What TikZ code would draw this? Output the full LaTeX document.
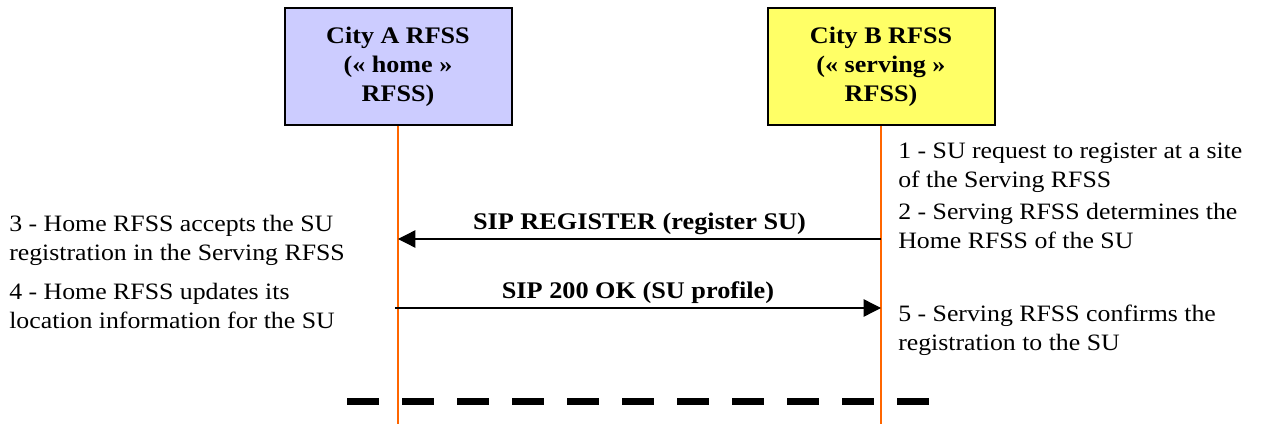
\documentclass[tikz,border=0pt]{standalone}
\usepackage{fontspec}
\setmainfont{Liberation Serif}[FakeStretch=1.1]
\usetikzlibrary{arrows.meta,positioning}
\definecolor{homeblue}{HTML}{CCCCFF}
\definecolor{servyellow}{HTML}{FFFF66}
\definecolor{lifeorange}{HTML}{FF6600}

\begin{document}
\begin{tikzpicture}[->,>={Triangle[length=13pt,width=13pt]},x=0.75pt,y=-0.75pt,thin]
\tikzstyle{rfss}=[draw,line width=1.5pt,minimum width=170.25pt,minimum height=87.75pt,align=center,font=\fontsize{17.8}{21.75}\selectfont\bfseries]
\tikzstyle{note}=[anchor=base west,align=left,inner sep=0pt,font=\fontsize{17.6}{21.6}\selectfont]
\tikzstyle{msg}=[black,line width=1pt]
\tikzstyle{msglabel}=[above=0pt,inner sep=3pt,font=\fontsize{17.9}{21}\selectfont\bfseries]
\tikzstyle{lifeline}=[-,draw=lifeorange,line width=1.2pt]
\tikzstyle{separator}=[-,line width=5.25pt,dash pattern=on 24pt off 17.25pt]

\useasboundingbox (0,0) rectangle (1261,424);

\node[rfss,fill=homeblue]   (A) at (398,66.5) {City A RFSS\\(« home »\\RFSS)};
\node[rfss,fill=servyellow] (B) at (881,66.5) {City B RFSS\\(« serving »\\RFSS)};

\coordinate (Aend) at (398,424);
\coordinate (Bend) at (881,424);
\draw[lifeline] (A.south) -- (Aend);
\draw[lifeline] (B.south) -- (Bend);

\coordinate (regB) at (881,239);
\coordinate (regA) at (398,239);
\coordinate (okA)  at (395,308);
\coordinate (okB)  at (881,308);

\path
(regB) edge[msg] node[msglabel] {SIP REGISTER (register SU)} (regA)
(okA) edge[msg] node[msglabel] {SIP 200 OK (SU profile)} (okB)
;

% base anchor sits on the last line
\node[note] (N1) at (898,187.3) {1 - SU request to register at a site\\of the Serving RFSS};
\node[note] (N2) at (898,248.3) {2 - Serving RFSS determines the\\Home RFSS of the SU};
\node[note] (N3) at (9,260.5)   {3 - Home RFSS accepts the SU\\registration in the Serving RFSS};
\node[note] (N4) at (9,328)     {4 - Home RFSS updates its\\location information for the SU};
\node[note] (N5) at (898,350)   {5 - Serving RFSS confirms the\\registration to the SU};

\coordinate (sepL) at (347,401);
\coordinate (sepR) at (929,401);
\draw[separator] (sepL) -- (sepR);
\end{tikzpicture}
\end{document}
